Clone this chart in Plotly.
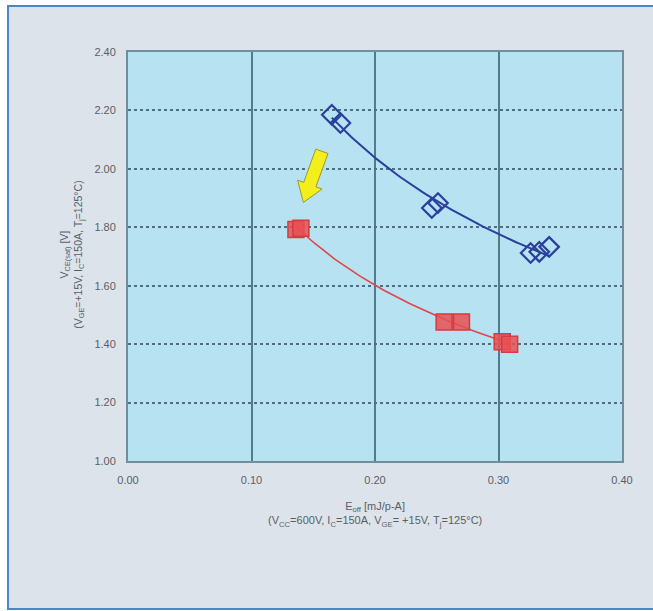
import numpy as np
import plotly.graph_objects as go

# Measured points: collector-emitter saturation voltage vs turn-off energy
blue_x = [0.165, 0.172, 0.246, 0.251, 0.326, 0.333, 0.341]
blue_y = [2.185, 2.157, 1.866, 1.883, 1.712, 1.716, 1.733]

red_x = [0.136, 0.140, 0.256, 0.270, 0.303, 0.309]
red_y = [1.792, 1.797, 1.476, 1.476, 1.408, 1.400]

x_ticks = [0.0, 0.1, 0.2, 0.3, 0.4]
x_tick_text = ["0.00", "0.10", "0.20", "0.30", "0.40"]
y_ticks = [1.0, 1.2, 1.4, 1.6, 1.8, 2.0, 2.2, 2.4]
y_tick_text = ["1.00", "1.20", "1.40", "1.60", "1.80", "2.00", "2.20", "2.40"]

BLUE = "#2b3f9c"
RED = "#e0464a"
GRID = "#557a8a"
TEXT = "#5a5f66"
PANEL = "#dde3ea"


def power_fit(xs, ys, n=80):
    """Trend curve y = a * x^b fitted in log space over the data span."""
    b, ln_a = np.polyfit(np.log(xs), np.log(ys), 1)
    xx = np.linspace(min(xs), max(xs), n)
    return xx, np.exp(ln_a) * xx ** b


fig = go.Figure()

bx, by = power_fit(blue_x, blue_y)
rx, ry = power_fit(red_x, red_y)

fig.add_trace(go.Scatter(x=bx, y=by, mode="lines",
                         line=dict(color=BLUE, width=2), hoverinfo="skip"))
fig.add_trace(go.Scatter(x=rx, y=ry, mode="lines",
                         line=dict(color=RED, width=1.6), hoverinfo="skip"))

fig.add_trace(go.Scatter(
    x=blue_x, y=blue_y, mode="markers",
    marker=dict(symbol="diamond-open", size=15, color=BLUE,
                line=dict(color=BLUE, width=2.2))))
fig.add_trace(go.Scatter(
    x=red_x, y=red_y, mode="markers",
    marker=dict(symbol="square", size=16, color="rgba(232,80,84,0.85)",
                line=dict(color="#d83a3e", width=1.5))))

# Yellow arrow (polygon built in pixel space, converted to data units)
sx = 494 / 0.4   # px per x unit
sy = 409 / 1.4   # px per y unit
tail = np.array([0.157 * sx, -2.06 * sy])
tip = np.array([0.142 * sx, -1.885 * sy])
d = tip - tail
u = d / np.linalg.norm(d)
nrm = np.array([-u[1], u[0]])
head_len, body_w, head_w = 19, 6.5, 13
base = tip - u * head_len
pts = [tail + nrm * body_w, base + nrm * body_w, base + nrm * head_w, tip,
       base - nrm * head_w, base - nrm * body_w, tail - nrm * body_w]
path = "M " + " L ".join(f"{p[0] / sx:.5f},{-p[1] / sy:.5f}" for p in pts) + " Z"


def px_x(p):
    return (p - 128) / 494


def px_y(p):
    return (461 - p) / 409


shapes = [
    # white margin outside the panel frame
    dict(type="rect", xref="paper", yref="paper",
         x0=px_x(-5), x1=px_x(8), y0=px_y(620), y1=px_y(-5),
         fillcolor="white", line=dict(width=0), layer="below"),
    dict(type="rect", xref="paper", yref="paper",
         x0=px_x(-5), x1=px_x(660), y0=px_y(6), y1=px_y(-5),
         fillcolor="white", line=dict(width=0), layer="below"),
    dict(type="rect", xref="paper", yref="paper",
         x0=px_x(-5), x1=px_x(660), y0=px_y(620), y1=px_y(610),
         fillcolor="white", line=dict(width=0), layer="below"),
    # blue panel frame
    dict(type="rect", xref="paper", yref="paper",
         x0=px_x(8), x1=px_x(662), y0=px_y(609), y1=px_y(6),
         line=dict(color="#4a86c8", width=2), layer="below"),
    dict(type="path", xref="x", yref="y", path=path,
         fillcolor="#f3ee1c", line=dict(color="#9a9a30", width=1)),
]

annotations = [
    dict(xref="paper", yref="paper", x=-0.145, y=0.505, textangle=-90,
         showarrow=False, align="center",
         text="V<sub>CE(sat)</sub> [V]<br>(V<sub>GE</sub>=+15V, I<sub>C</sub>=150A, T<sub>j</sub>=125°C)",
         font=dict(size=10.5, color=TEXT, family="Liberation Sans")),
    dict(xref="paper", yref="paper", x=0.5, y=-0.09, yanchor="top",
         showarrow=False, align="center",
         text="E<sub>off</sub> [mJ/p-A]<br>(V<sub>CC</sub>=600V, I<sub>C</sub>=150A, V<sub>GE</sub>= +15V, T<sub>j</sub>=125°C)",
         font=dict(size=11, color=TEXT, family="Liberation Sans")),
]

fig.update_layout(
    width=653, height=611,
    margin=dict(l=128, r=31, t=52, b=150),
    paper_bgcolor=PANEL,
    plot_bgcolor="#b6e2f2",
    showlegend=False,
    shapes=shapes,
    annotations=annotations,
    font=dict(family="Liberation Sans", size=11, color=TEXT),
    xaxis=dict(range=[0, 0.4], tickvals=x_ticks, ticktext=x_tick_text,
               showgrid=True, gridcolor=GRID, gridwidth=1.5,
               zeroline=False, showline=True, linecolor="#6f8f9c", linewidth=2,
               mirror=True, ticks="", ticklabelstandoff=8,
               tickfont=dict(size=11, color=TEXT)),
    yaxis=dict(range=[1.0, 2.4], tickvals=y_ticks, ticktext=y_tick_text,
               showgrid=True, gridcolor="#4f6f80", gridwidth=2, griddash="dot",
               zeroline=False, showline=True, linecolor="#6f8f9c", linewidth=2,
               mirror=True, ticks="", ticklabelstandoff=8,
               tickfont=dict(size=11, color=TEXT)),
)

fig.write_html("out.html")
